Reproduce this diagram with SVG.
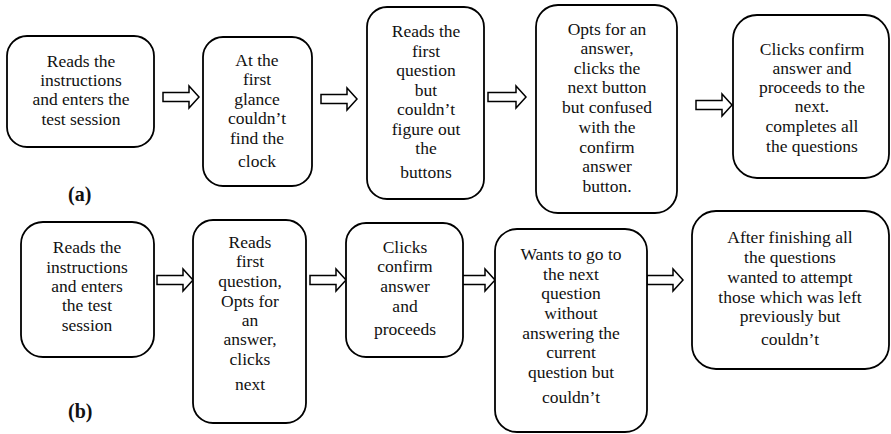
<svg xmlns="http://www.w3.org/2000/svg" width="891" height="434" viewBox="0 0 891 434">
<style>
.box{fill:#fff;stroke:#000;stroke-width:1.8}
.arr{fill:#fff;stroke:#000;stroke-width:1.5;stroke-linejoin:miter}
text{font-family:"Times New Roman","Liberation Serif",Times,"Nimbus Roman","DejaVu Serif","Noto Serif",serif;font-size:17.5px;fill:#111;text-anchor:middle}
.lab{font-weight:bold;font-size:20px;text-anchor:start}
</style>
<rect width="891" height="434" fill="#fff"/>
<g id="connectors">
<path class="arr" d="M163,92.5 H189 V86 L199,97 L189,108 V101.5 H163 Z"/>
<path class="arr" d="M321,94.5 H347 V88 L357,99 L347,110 V103.5 H321 Z"/>
<path class="arr" d="M488,92.5 H516 V86 L526,97 L516,108 V101.5 H488 Z"/>
<path class="arr" d="M696,100.5 H722 V94 L732,105 L722,116 V109.5 H696 Z"/>
<path class="arr" d="M157,275.5 H183 V269 L193,280 L183,291 V284.5 H157 Z"/>
<path class="arr" d="M310,275.5 H336 V269 L346,280 L336,291 V284.5 H310 Z"/>
<path class="arr" d="M460,275.5 H485 V269 L495,280 L485,291 V284.5 H460 Z"/>
<path class="arr" d="M647,275.5 H673 V269 L683,280 L673,291 V284.5 H647 Z"/>
</g>
<g id="a1">
<rect class="box" x="7" y="36" width="147" height="111" rx="20"/>
<text><tspan x="81" y="67">Reads the</tspan><tspan x="81" y="86">instructions</tspan><tspan x="81" y="105">and enters the</tspan><tspan x="81" y="125">test session</tspan></text>
</g>
<g id="a2">
<rect class="box" x="203" y="37" width="109" height="149" rx="20"/>
<text><tspan x="257" y="66">At the</tspan><tspan x="257" y="85">first</tspan><tspan x="257" y="105">glance</tspan><tspan x="257" y="124">couldn’t</tspan><tspan x="257" y="144">find the</tspan><tspan x="257" y="167">clock</tspan></text>
</g>
<g id="a3">
<rect class="box" x="367" y="7" width="117" height="192" rx="20"/>
<text><tspan x="426" y="37">Reads the</tspan><tspan x="426" y="57">first</tspan><tspan x="426" y="76">question</tspan><tspan x="426" y="96">but</tspan><tspan x="426" y="115">couldn’t</tspan><tspan x="426" y="135">figure out</tspan><tspan x="426" y="154">the</tspan><tspan x="426" y="178">buttons</tspan></text>
</g>
<g id="a4">
<rect class="box" x="536" y="5" width="141" height="208" rx="22"/>
<text><tspan x="607" y="35">Opts for an</tspan><tspan x="607" y="54">answer,</tspan><tspan x="607" y="74">clicks the</tspan><tspan x="607" y="93">next button</tspan><tspan x="607" y="113">but confused</tspan><tspan x="607" y="133">with the</tspan><tspan x="607" y="153">confirm</tspan><tspan x="607" y="172">answer</tspan><tspan x="607" y="192">button.</tspan></text>
</g>
<g id="a5">
<rect class="box" x="733" y="15" width="156" height="163" rx="24"/>
<text><tspan x="812" y="55">Clicks confirm</tspan><tspan x="812" y="74">answer and</tspan><tspan x="812" y="93">proceeds to the</tspan><tspan x="812" y="112">next.</tspan><tspan x="812" y="132">completes all</tspan><tspan x="812" y="152">the questions</tspan></text>
</g>
<text class="lab" x="68" y="201">(a)</text>
<g id="b1">
<rect class="box" x="21" y="222" width="133" height="135" rx="22"/>
<text><tspan x="87" y="253">Reads the</tspan><tspan x="87" y="273">instructions</tspan><tspan x="87" y="292">and enters</tspan><tspan x="87" y="311">the test</tspan><tspan x="87" y="331">session</tspan></text>
</g>
<g id="b2">
<rect class="box" x="193" y="220" width="113" height="203" rx="20"/>
<text><tspan x="250" y="248">Reads</tspan><tspan x="250" y="267">first</tspan><tspan x="250" y="287">question,</tspan><tspan x="250" y="307">Opts for</tspan><tspan x="250" y="326">an</tspan><tspan x="250" y="345">answer,</tspan><tspan x="250" y="365">clicks</tspan><tspan x="250" y="390">next</tspan></text>
</g>
<g id="b3">
<rect class="box" x="346" y="223" width="117" height="134" rx="20"/>
<text><tspan x="405" y="253">Clicks</tspan><tspan x="405" y="272">confirm</tspan><tspan x="405" y="292">answer</tspan><tspan x="405" y="312">and</tspan><tspan x="405" y="335">proceeds</tspan></text>
</g>
<g id="b4">
<rect class="box" x="495" y="229" width="152" height="203" rx="22"/>
<text><tspan x="571" y="260">Wants to go to</tspan><tspan x="571" y="280">the next</tspan><tspan x="571" y="299">question</tspan><tspan x="571" y="319">without</tspan><tspan x="571" y="339">answering the</tspan><tspan x="571" y="358">current</tspan><tspan x="571" y="378">question but</tspan><tspan x="571" y="403">couldn’t</tspan></text>
</g>
<g id="b5">
<rect class="box" x="692" y="211" width="197" height="158" rx="24"/>
<text><tspan x="790" y="243">After finishing all</tspan><tspan x="790" y="263">the questions</tspan><tspan x="790" y="283">wanted to attempt</tspan><tspan x="790" y="303">those which was left</tspan><tspan x="790" y="322">previously but</tspan><tspan x="790" y="345">couldn’t</tspan></text>
</g>
<text class="lab" x="68" y="418">(b)</text>
</svg>
